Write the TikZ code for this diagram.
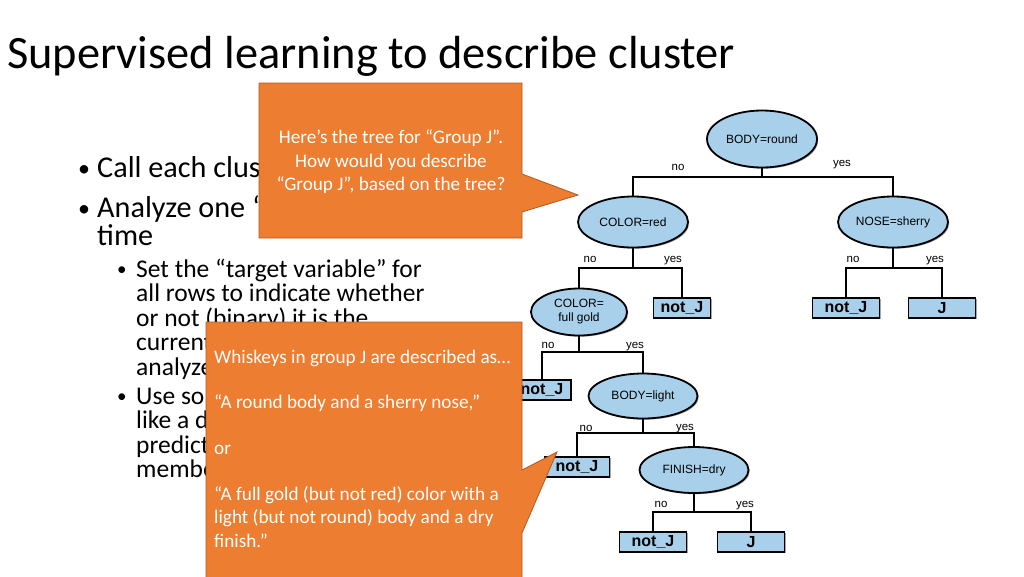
\documentclass[tikz,border=0pt]{standalone}
\usepackage{fontspec}
\setmainfont{Carlito}
\newfontfamily\treefont{Liberation Sans}
\usetikzlibrary{shapes.geometric,shadows}
\definecolor{calloutOrange}{RGB}{237,125,49}
\definecolor{calloutEdge}{RGB}{174,90,33}
\definecolor{treeBlue}{RGB}{168,208,234}

\tikzset{
  softshadow/.style={drop shadow={shadow xshift=1.2pt, shadow yshift=-1.2pt, fill=black, opacity=0.35}},
  decision/.style={ellipse, draw=black, line width=1.8pt, fill=treeBlue, inner sep=0pt,
    align=center, font=\treefont\fontsize{12}{14}\selectfont, softshadow},
  leaf/.style={rectangle, draw=black, line width=1.4pt, fill=treeBlue, inner sep=0pt,
    minimum height=20pt, font=\treefont\bfseries\fontsize{16}{16}\selectfont, softshadow},
  branch/.style={line width=1.6pt},
  answer/.style={anchor=base, inner sep=0pt, font=\treefont\fontsize{11.5}{12}\selectfont},
  callout/.style={fill=calloutOrange, draw=calloutEdge, line width=0.8pt},
  mainbullet/.style={anchor=base west, inner sep=0pt, font=\fontsize{30.2}{30}\selectfont},
  subbullet/.style={anchor=base west, inner sep=0pt, font=\fontsize{25.5}{25}\selectfont},
  callouttext/.style={inner sep=0pt, text=white, font=\fontsize{19.2}{23}\selectfont}
}

\begin{document}
\begin{tikzpicture}[x=1pt, y=-1pt]
  \useasboundingbox (0,0) rectangle (1024,576);

  % Title
  \node[anchor=base west, inner sep=0pt, font=\fontsize{46.4}{52}\selectfont] (title) at (7,68)
    {Supervised learning to describe cluster};

  % Bullet text (partly hidden by the callouts)
  \foreach \y/\txt [count=\i] in {177/{Call each cluster}, 217/{Analyze one “group”}, 245/{time}} {
    \node[mainbullet] (mainline\i) at (97,\y) {\txt};
  }
  \node[mainbullet, font=\fontsize{24}{24}\selectfont] (dotA) at (78,176) {\textbullet};
  \node[mainbullet, font=\fontsize{24}{24}\selectfont] (dotB) at (78,216) {\textbullet};

  \foreach \y/\txt [count=\i] in {277/{Set the “target variable” for}, 301.5/{all rows to indicate whether},
      326/{or not (binary) it is the}, 350.5/{current group}, 375/{analyzed},
      404/{Use some}, 428.5/{like a decision}, 453/{predict group}, 477.5/{membership}} {
    \node[subbullet] (subline\i) at (136,\y) {\txt};
  }
  \node[subbullet, font=\fontsize{19}{19}\selectfont] (dotC) at (117,275) {\textbullet};
  \node[subbullet, font=\fontsize{19}{19}\selectfont] (dotD) at (117,402) {\textbullet};

  % Decision tree
  \node[decision, minimum width=110pt, minimum height=57pt] (round) at (762,139) {BODY=round};
  \node[decision, minimum width=110pt, minimum height=51pt] (red) at (633,222) {COLOR=red};
  \node[decision, minimum width=110pt, minimum height=51pt] (sherry) at (893,222) {NOSE=sherry};
  \node[decision, minimum width=96pt, minimum height=47pt] (gold) at (579,312) {COLOR=\\full gold};
  \node[decision, minimum width=109pt, minimum height=45pt] (light) at (643,396) {BODY=light};
  \node[decision, minimum width=109pt, minimum height=46pt] (finish) at (694,470) {FINISH=dry};

  \node[leaf, minimum width=57pt] (notA) at (682,308) {not\_J};
  \node[leaf, minimum width=67pt] (notB) at (846,308) {not\_J};
  \node[leaf, minimum width=67pt] (jA) at (942,308) {J};
  \node[leaf, minimum width=58pt] (notC) at (542,390) {not\_J};
  \node[leaf, minimum width=65pt] (notD) at (577,467) {not\_J};
  \node[leaf, minimum width=67pt] (notE) at (653,542) {not\_J};
  \node[leaf, minimum width=67pt] (jB) at (751,542) {J};

  \foreach \p/\c/\y in {round/red/177, round/sherry/177, red/gold/268, red/notA/268,
      sherry/notB/268, sherry/jA/268, gold/notC/352, gold/light/352,
      light/notD/433, light/finish/433, finish/notE/512, finish/jB/512} {
    \coordinate (bar) at (0,\y);
    \draw[branch] (\p.south) -- (\p.south |- bar) -| (\c.north);
  }

  % Branch answers
  \foreach \x/\y/\txt in {678/170/no, 842/166/yes, 590/262/no, 673/262/yes, 853/262/no, 935/262/yes,
      548/348/no, 635/348/yes, 586/431/no, 685/430/yes, 661/507/no, 745/507/yes} {
    \node[answer] at (\x,\y) {\txt};
  }

  % Callouts
  \draw[callout] (259,83) -- (522,83) -- (522,174) -- (578,195) -- (522,212) -- (522,238) -- (259,238) -- cycle;
  \draw[callout] (206,322) -- (522,322) -- (522,470) -- (557,452) -- (522,533) -- (522,580) -- (206,580) -- cycle;

  \node[callouttext, anchor=base] (askA) at (391,143) {Here’s the tree for “Group J”.};
  \node[callouttext, anchor=base] (askB) at (391,167) {How would you describe};
  \node[callouttext, anchor=base] (askC) at (391,190) {“Group J”, based on the tree?};

  \foreach \y/\txt [count=\i] in {363/{Whiskeys in group J are described as…}, 408/{“A round body and a sherry nose,”},
      454/{or}, 500/{“A full gold (but not red) color with a}, 523/{light (but not round) body and a dry},
      547/{finish.”}} {
    \node[callouttext, anchor=base west] (reply\i) at (214,\y) {\txt};
  }
\end{tikzpicture}
\end{document}
